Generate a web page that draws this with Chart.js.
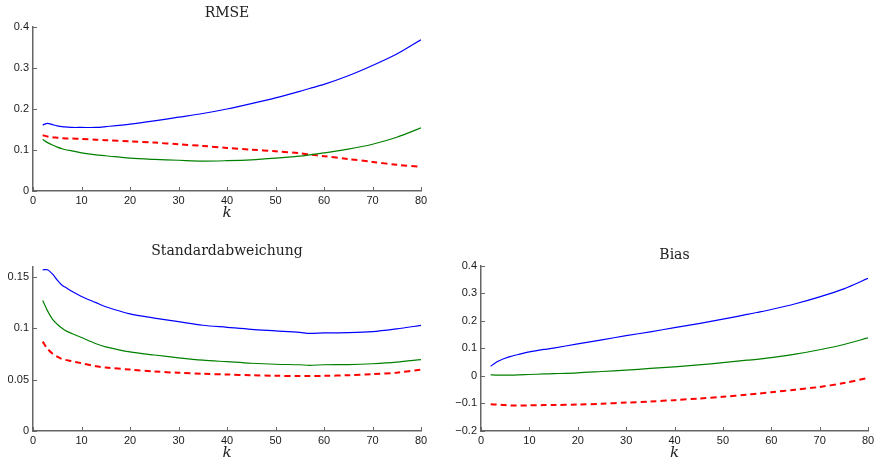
<!DOCTYPE html>
<html>
<head>
<meta charset="utf-8">
<script src="https://cdn.jsdelivr.net/npm/chart.js@4"></script>
<style>
  html, body { margin: 0; padding: 0; background: #fff; overflow: hidden; }
  body { width: 874px; height: 462px; position: relative; }
  canvas { position: absolute; }
</style>
</head>
<body>
<canvas id="rmse" width="440" height="222" style="left:0;top:0"></canvas>
<canvas id="std" width="440" height="227" style="left:0;top:235px"></canvas>
<canvas id="bias" width="440" height="227" style="left:440px;top:235px"></canvas>
<script>
// k values shared by all three panels
var kValues = [2, 3, 4, 5, 6, 7, 8, 10, 13, 15, 20, 25, 30, 35, 40, 45, 50, 55, 57, 60, 65, 70, 75, 80];
var xTicks = [0, 10, 20, 30, 40, 50, 60, 70, 80];

// RMSE
var rmseBlue  = [0.161, 0.165, 0.162, 0.159, 0.157, 0.156, 0.155, 0.155, 0.155, 0.157, 0.163, 0.171, 0.180, 0.189, 0.200, 0.213, 0.227, 0.243, 0.250, 0.260, 0.281, 0.306, 0.334, 0.369];
var rmseGreen = [0.126, 0.118, 0.112, 0.107, 0.103, 0.100, 0.098, 0.093, 0.088, 0.086, 0.080, 0.077, 0.075, 0.073, 0.074, 0.076, 0.080, 0.085, 0.088, 0.093, 0.102, 0.114, 0.131, 0.154];
var rmseRed   = [0.136, 0.133, 0.131, 0.130, 0.129, 0.128, 0.128, 0.127, 0.125, 0.124, 0.121, 0.118, 0.114, 0.110, 0.105, 0.101, 0.097, 0.092, 0.089, 0.085, 0.078, 0.071, 0.064, 0.059];
var rmseTicks = [0, 0.1, 0.2, 0.3, 0.4];

// Standardabweichung
var stdBlue  = [0.157, 0.157, 0.153, 0.147, 0.142, 0.139, 0.136, 0.131, 0.125, 0.121, 0.114, 0.110, 0.1065, 0.103, 0.101, 0.099, 0.0975, 0.096, 0.095, 0.0955, 0.0958, 0.0968, 0.0995, 0.1028];
var stdGreen = [0.127, 0.117, 0.109, 0.104, 0.100, 0.097, 0.095, 0.091, 0.085, 0.082, 0.077, 0.074, 0.0713, 0.069, 0.0675, 0.066, 0.065, 0.0645, 0.064, 0.0645, 0.0647, 0.0655, 0.067, 0.0695];
var stdRed   = [0.087, 0.080, 0.0755, 0.0725, 0.070, 0.069, 0.068, 0.066, 0.063, 0.0618, 0.0598, 0.058, 0.0567, 0.0557, 0.055, 0.0543, 0.0538, 0.0535, 0.0535, 0.0537, 0.0543, 0.0553, 0.0568, 0.0598];
var stdTicks = [0, 0.05, 0.1, 0.15];

// Bias
var biasBlue  = [0.035, 0.048, 0.057, 0.064, 0.070, 0.075, 0.079, 0.087, 0.096, 0.101, 0.116, 0.131, 0.146, 0.160, 0.175, 0.190, 0.206, 0.223, 0.230, 0.241, 0.262, 0.287, 0.316, 0.354];
var biasGreen = [0.004, 0.003, 0.003, 0.003, 0.003, 0.003, 0.004, 0.005, 0.007, 0.008, 0.011, 0.016, 0.021, 0.027, 0.033, 0.040, 0.048, 0.057, 0.060, 0.066, 0.079, 0.095, 0.114, 0.138];
var biasRed   = [-0.103, -0.104, -0.105, -0.106, -0.107, -0.107, -0.107, -0.107, -0.106, -0.106, -0.104, -0.101, -0.097, -0.093, -0.088, -0.082, -0.076, -0.068, -0.065, -0.059, -0.050, -0.040, -0.026, -0.007];
var biasTicks = [-0.2, -0.1, 0, 0.1, 0.2, 0.3, 0.4];

var AXIS = "#666";

Chart.defaults.font.family = '"Liberation Sans", Arial, sans-serif';
Chart.defaults.font.size = 11;
Chart.defaults.color = "#1a1a1a";

// small tick marks pointing into the plot, matlab style
var inwardTicks = {
  id: "inwardTicks",
  afterDatasetsDraw: function (chart) {
    var ctx = chart.ctx, a = chart.chartArea;
    ctx.save();
    ctx.strokeStyle = AXIS;
    ctx.lineWidth = 1;
    ctx.beginPath();
    chart.scales.x.ticks.forEach(function (t) {
      var px = Math.round(chart.scales.x.getPixelForValue(t.value)) + 0.5;
      ctx.moveTo(px, a.bottom);
      ctx.lineTo(px, a.bottom - 4);
    });
    chart.scales.y.ticks.forEach(function (t) {
      var py = Math.round(chart.scales.y.getPixelForValue(t.value)) + 0.5;
      ctx.moveTo(a.left, py);
      ctx.lineTo(a.left + 4, py);
    });
    ctx.stroke();
    ctx.restore();
  }
};

function pts(ys) {
  return kValues.map(function (k, i) { return { x: k, y: ys[i] }; });
}

function fmt(v) {
  if (Math.abs(v) < 1e-9) return "0";
  return String(+v.toFixed(2)).replace("-", "\u2212");
}

function makePanel(id, title, series, yMin, yMax, yTicks, opt) {
  new Chart(document.getElementById(id), {
    type: "line",
    data: {
      datasets: [
        { data: pts(series[0]), borderColor: "#0000ff", borderWidth: 1.2 },
        { data: pts(series[1]), borderColor: "#008000", borderWidth: 1.2 },
        { data: pts(series[2]), borderColor: "#ff0000", borderWidth: 2, borderDash: [6, 4] }
      ]
    },
    options: {
      responsive: false,
      animation: false,
      devicePixelRatio: 1,
      layout: { padding: { left: 0, right: opt.right, top: 0, bottom: 0 } },
      elements: { point: { radius: 0 }, line: { tension: 0.3, fill: false } },
      plugins: {
        legend: { display: false },
        tooltip: { enabled: false },
        title: {
          display: true,
          text: title,
          fullSize: false,
          color: "#222",
          font: { family: '"DejaVu Serif", serif', size: 14, weight: "normal" },
          padding: { top: opt.titleTop, bottom: opt.titleBottom }
        }
      },
      scales: {
        x: {
          type: "linear",
          min: 0, max: 80,
          grid: { display: false, drawTicks: false },
          border: { display: true, color: AXIS, width: 1.5 },
          afterBuildTicks: function (s) { s.ticks = xTicks.map(function (v) { return { value: v }; }); },
          afterFit: function (s) { s.height = 31; },
          ticks: { padding: 3, maxRotation: 0, callback: function (v) { return String(v); } },
          title: {
            display: true,
            text: "k",
            color: "#222",
            font: { family: '"DejaVu Serif", serif', size: 15, style: "italic" },
            padding: { top: 0, bottom: 0 }
          }
        },
        y: {
          min: yMin, max: yMax,
          grid: { display: false, drawTicks: false },
          border: { display: true, color: AXIS, width: 1.5 },
          afterBuildTicks: function (s) { s.ticks = yTicks.map(function (v) { return { value: v }; }); },
          afterFit: function (s) { s.width = opt.yWidth; },
          ticks: { padding: 4, callback: fmt }
        }
      }
    },
    plugins: [inwardTicks]
  });
}

makePanel("rmse", "RMSE", [rmseBlue, rmseGreen, rmseRed], 0, 0.4, rmseTicks,
  { yWidth: 33, right: 19, titleTop: 4.6, titleBottom: 5.6 });
makePanel("std", "Standardabweichung", [stdBlue, stdGreen, stdRed], 0, 0.16, stdTicks,
  { yWidth: 33, right: 19, titleTop: 7.6, titleBottom: 7.3 });
makePanel("bias", "Bias", [biasBlue, biasGreen, biasRed], -0.2, 0.4, biasTicks,
  { yWidth: 41, right: 12, titleTop: 11.6, titleBottom: 2.3 });
</script>
</body>
</html>
